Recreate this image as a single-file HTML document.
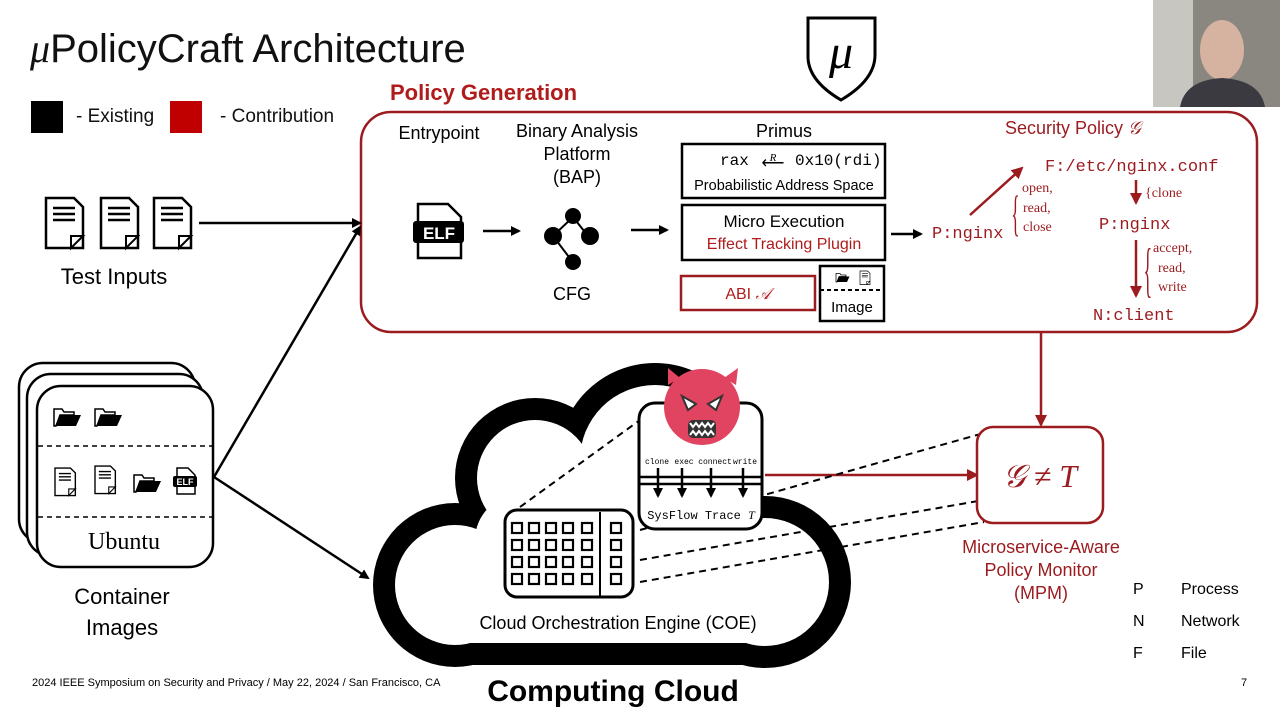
<!DOCTYPE html>
<html><head><meta charset="utf-8"><style>
body{margin:0;background:#fff}
svg{display:block;font-family:"Liberation Sans",sans-serif}
.m{font-family:"Liberation Mono",monospace}
</style></head><body>
<svg width="1280" height="720" viewBox="0 0 1280 720" xmlns="http://www.w3.org/2000/svg">
<defs>
<marker id="ab" markerWidth="10" markerHeight="10" refX="8" refY="5" orient="auto" markerUnits="userSpaceOnUse"><path d="M0,0 L10,5 L0,10 z" fill="#000"/></marker>
<marker id="ar" markerWidth="12" markerHeight="12" refX="10" refY="6" orient="auto" markerUnits="userSpaceOnUse"><path d="M0,0 L12,6 L0,12 z" fill="#9b1b1f"/></marker>
<g id="doc"><path d="M0,0 H28 L37,9 V50 H0 Z" fill="none" stroke="#000" stroke-width="2.5"/><path d="M37,38 L25,50 V38 Z" fill="none" stroke="#000" stroke-width="2"/><path d="M7,10H29M7,16H29M7,22H29" stroke="#000" stroke-width="2.5"/></g>
<g id="fold"><path d="M0,3 H8 L10,6 H20 V9 H6 L2,20 H0 Z" fill="none" stroke="#000" stroke-width="1.5"/><path d="M6,9 H27 L22,20 H1 Z" fill="#000"/></g>
</defs>

<!-- title -->
<text x="30" y="62" font-size="40" fill="#111"><tspan font-style="italic" font-family="Liberation Serif">μ</tspan>PolicyCraft Architecture</text>
<rect x="31" y="101" width="32" height="32" fill="#000"/>
<text x="76" y="122" font-size="19" fill="#111">- Existing</text>
<rect x="170" y="101" width="32" height="32" fill="#c00000"/>
<text x="220" y="122" font-size="19" fill="#111">- Contribution</text>

<!-- mu shield -->
<path d="M808,18 H875 V55 Q875,80 841,100 Q807,80 808,55 Z" fill="none" stroke="#000" stroke-width="3"/>
<text x="841" y="68" font-size="48" font-style="italic" font-family="Liberation Serif" text-anchor="middle">μ</text>

<!-- webcam -->
<rect x="1153" y="0" width="127" height="107" fill="#8a8680"/>
<rect x="1153" y="0" width="40" height="107" fill="#c8c6c0"/>
<ellipse cx="1222" cy="50" rx="22" ry="30" fill="#d6b3a0"/>
<path d="M1180,107 Q1185,80 1222,78 Q1260,80 1265,107 Z" fill="#3a3a40"/>

<text x="390" y="100" font-size="22" font-weight="bold" fill="#b01c1c">Policy Generation</text>
<rect x="361" y="112" width="896" height="220" rx="30" fill="none" stroke="#9b1b1f" stroke-width="2.5"/>

<text x="439" y="139" font-size="18" text-anchor="middle">Entrypoint</text>
<text x="577" y="137" font-size="18" text-anchor="middle">Binary Analysis</text>
<text x="577" y="160" font-size="18" text-anchor="middle">Platform</text>
<text x="577" y="183" font-size="18" text-anchor="middle">(BAP)</text>
<text x="784" y="137" font-size="18" text-anchor="middle">Primus</text>
<!-- ELF -->
<path d="M418,204 H448 L461,217 V258 H418 Z" fill="#fff" stroke="#000" stroke-width="2.5"/>
<rect x="413" y="221" width="51" height="22" rx="3" fill="#000"/>
<text x="439" y="239" font-size="17" font-weight="bold" fill="#fff" text-anchor="middle">ELF</text>
<line x1="483" y1="231" x2="519" y2="231" stroke="#000" stroke-width="2.5" marker-end="url(#ab)"/>
<!-- CFG -->
<g stroke="#000" stroke-width="2"><line x1="573" y1="217" x2="553" y2="236"/><line x1="573" y1="217" x2="588" y2="236"/><line x1="553" y1="236" x2="572" y2="261"/></g>
<circle cx="573" cy="216" r="8"/><circle cx="553" cy="236" r="9"/><circle cx="590" cy="236" r="9"/><circle cx="573" cy="262" r="8"/>
<text x="572" y="300" font-size="18" text-anchor="middle">CFG</text>
<line x1="631" y1="230" x2="667" y2="230" stroke="#000" stroke-width="2.5" marker-end="url(#ab)"/>
<!-- primus boxes -->
<rect x="682" y="144" width="203" height="54" fill="none" stroke="#000" stroke-width="2.5"/>
<text x="720" y="165" font-size="16" class="m">rax</text>
<text x="773" y="161" font-size="11" font-style="italic" font-family="Liberation Serif" text-anchor="middle">R</text>
<text x="773" y="168" font-size="16" text-anchor="middle">⟵</text>
<text x="795" y="165" font-size="16" class="m">0x10(rdi)</text>
<text x="784" y="190" font-size="14.5" text-anchor="middle">Probabilistic Address Space</text>
<rect x="682" y="205" width="203" height="55" fill="none" stroke="#000" stroke-width="2.5"/>
<text x="784" y="227" font-size="17" text-anchor="middle">Micro Execution</text>
<text x="784" y="249" font-size="16" text-anchor="middle" fill="#b01c1c">Effect Tracking Plugin</text>
<rect x="681" y="276" width="134" height="34" fill="none" stroke="#9b1b1f" stroke-width="2.5"/>
<text x="748" y="299" font-size="16" text-anchor="middle" fill="#b01c1c">ABI <tspan font-style="italic" font-family="Liberation Serif">𝒜</tspan></text>
<rect x="820" y="266" width="64" height="55" fill="none" stroke="#000" stroke-width="2.5"/>
<line x1="820" y1="290" x2="884" y2="290" stroke="#000" stroke-width="2" stroke-dasharray="4,3"/>
<g transform="translate(836,272) scale(0.5)"><use href="#fold"/></g>
<g transform="translate(860,271) scale(0.27)"><use href="#doc"/></g>
<text x="852" y="312" font-size="15" text-anchor="middle">Image</text>
<line x1="891" y1="234" x2="921" y2="234" stroke="#000" stroke-width="2.5" marker-end="url(#ab)"/>

<!-- security policy -->
<g fill="#9b1b1f">
<text x="1005" y="134" font-size="18">Security Policy <tspan font-style="italic" font-family="Liberation Serif">𝒢</tspan></text>
<text x="932" y="238" font-size="17" class="m">P:nginx</text>
<text x="1045" y="171" font-size="17" class="m">F:/etc/nginx.conf</text>
<text x="1099" y="229" font-size="17" class="m">P:nginx</text>
<text x="1093" y="320" font-size="17" class="m">N:client</text>
<g font-family="Liberation Serif" font-size="14">
<text x="1022" y="192">open,</text><text x="1023" y="212">read,</text><text x="1023" y="231">close</text>
<text x="1145" y="197">{clone</text>
<text x="1153" y="252">accept,</text><text x="1158" y="272">read,</text><text x="1158" y="291">write</text>
</g>
<text x="1008" y="230" font-size="50" font-family="Liberation Serif" transform="translate(1013,205) scale(0.35,1) translate(-1013,-205)">{</text>
<text x="1140" y="290" font-size="60" font-family="Liberation Serif" transform="translate(1145,265) scale(0.3,1) translate(-1145,-265)">{</text>
</g>
<g stroke="#9b1b1f" stroke-width="2.5">
<line x1="970" y1="215" x2="1022" y2="168" marker-end="url(#ar)"/>
<line x1="1136" y1="180" x2="1136" y2="203" marker-end="url(#ar)"/>
<line x1="1136" y1="240" x2="1136" y2="296" marker-end="url(#ar)"/>
<line x1="1041" y1="333" x2="1041" y2="425" marker-end="url(#ar)"/>
<line x1="765" y1="475" x2="977" y2="475" marker-end="url(#ar)"/>
</g>

<!-- test inputs -->
<use href="#doc" x="46" y="198"/><use href="#doc" x="101" y="198"/><use href="#doc" x="154" y="198"/>
<text x="114" y="284" font-size="22" text-anchor="middle">Test Inputs</text>
<line x1="199" y1="223" x2="360" y2="223" stroke="#000" stroke-width="2.5" marker-end="url(#ab)"/>

<!-- container -->
<rect x="19" y="363" width="176" height="180" rx="24" fill="#fff" stroke="#000" stroke-width="2.5"/>
<rect x="27" y="374" width="176" height="182" rx="24" fill="#fff" stroke="#000" stroke-width="2.5"/>
<rect x="37" y="386" width="176" height="181" rx="24" fill="#fff" stroke="#000" stroke-width="2.5"/>
<line x1="38" y1="446" x2="212" y2="446" stroke="#000" stroke-width="1.5" stroke-dasharray="5,4"/>
<line x1="38" y1="517" x2="212" y2="517" stroke="#000" stroke-width="1.5" stroke-dasharray="5,4"/>
<use href="#fold" x="54" y="406"/><use href="#fold" x="95" y="406"/>
<g transform="translate(55,468) scale(0.55)"><use href="#doc"/></g>
<g transform="translate(95,466) scale(0.55)"><use href="#doc"/></g>
<use href="#fold" x="134" y="472"/>
<path d="M177,468 H188 L195,475 V494 H177 Z" fill="#fff" stroke="#000" stroke-width="1.5"/>
<rect x="173" y="476" width="24" height="11" rx="2"/>
<text x="185" y="485" font-size="9" font-weight="bold" fill="#fff" text-anchor="middle">ELF</text>
<text x="124" y="549" font-size="24" text-anchor="middle" font-family="Liberation Serif">Ubuntu</text>
<text x="122" y="604" font-size="22" text-anchor="middle">Container</text>
<text x="122" y="635" font-size="22" text-anchor="middle">Images</text>
<line x1="214" y1="477" x2="360" y2="227" stroke="#000" stroke-width="2.5" marker-end="url(#ab)"/>
<line x1="214" y1="477" x2="368" y2="578" stroke="#000" stroke-width="2.5" marker-end="url(#ab)"/>

<!-- cloud -->
<g fill="#000">
<circle cx="455" cy="585" r="82"/><circle cx="535" cy="478" r="80"/><circle cx="655" cy="460" r="97"/><circle cx="765" cy="582" r="86"/>
<circle cx="610" cy="560" r="92"/><circle cx="520" cy="540" r="67"/><circle cx="700" cy="545" r="67"/>
<rect x="455" y="560" width="310" height="105"/>
</g>
<g fill="#fff">
<circle cx="455" cy="585" r="60"/><circle cx="535" cy="478" r="58"/><circle cx="655" cy="460" r="75"/><circle cx="765" cy="582" r="64"/>
<circle cx="610" cy="560" r="70"/><circle cx="520" cy="540" r="45"/><circle cx="700" cy="545" r="45"/>
<rect x="455" y="560" width="310" height="83"/>
</g>
<text x="618" y="629" font-size="18" text-anchor="middle">Cloud Orchestration Engine (COE)</text>

<!-- dashed lines -->
<g stroke="#000" stroke-width="2" stroke-dasharray="7,5" fill="none">
<line x1="520" y1="507" x2="640" y2="420"/>
<line x1="640" y1="530" x2="984" y2="433"/>
<line x1="640" y1="560" x2="984" y2="500"/>
<line x1="640" y1="582" x2="984" y2="522"/>
</g>

<!-- building -->
<rect x="505" y="510" width="128" height="87" rx="12" fill="#fff" stroke="#000" stroke-width="3"/>
<line x1="600" y1="512" x2="600" y2="596" stroke="#000" stroke-width="2"/>
<g fill="none" stroke="#000" stroke-width="2.2">
<rect x="512" y="523" width="10" height="10"/><rect x="529" y="523" width="10" height="10"/><rect x="546" y="523" width="10" height="10"/><rect x="563" y="523" width="10" height="10"/><rect x="582" y="523" width="10" height="10"/><rect x="611" y="523" width="10" height="10"/>
<rect x="512" y="540" width="10" height="10"/><rect x="529" y="540" width="10" height="10"/><rect x="546" y="540" width="10" height="10"/><rect x="563" y="540" width="10" height="10"/><rect x="582" y="540" width="10" height="10"/><rect x="611" y="540" width="10" height="10"/>
<rect x="512" y="557" width="10" height="10"/><rect x="529" y="557" width="10" height="10"/><rect x="546" y="557" width="10" height="10"/><rect x="563" y="557" width="10" height="10"/><rect x="582" y="557" width="10" height="10"/><rect x="611" y="557" width="10" height="10"/>
<rect x="512" y="574" width="10" height="10"/><rect x="529" y="574" width="10" height="10"/><rect x="546" y="574" width="10" height="10"/><rect x="563" y="574" width="10" height="10"/><rect x="582" y="574" width="10" height="10"/><rect x="611" y="574" width="10" height="10"/>
</g>

<!-- sysflow box -->
<rect x="639" y="403" width="123" height="126" rx="16" fill="#fff" stroke="#000" stroke-width="3"/>
<g font-size="8" class="m" text-anchor="middle"><text x="657" y="464">clone</text><text x="684" y="464">exec</text><text x="715" y="464">connect</text><text x="745" y="464">write</text></g>
<line x1="640" y1="477" x2="762" y2="477" stroke="#000" stroke-width="2.5"/>
<line x1="640" y1="484" x2="762" y2="484" stroke="#000" stroke-width="2.5"/>
<g stroke="#000" stroke-width="2.5"><line x1="658" y1="468" x2="658" y2="496" marker-end="url(#ab)"/><line x1="682" y1="468" x2="682" y2="496" marker-end="url(#ab)"/><line x1="711" y1="468" x2="711" y2="496" marker-end="url(#ab)"/><line x1="743" y1="468" x2="743" y2="496" marker-end="url(#ab)"/></g>
<text x="701" y="519" font-size="12" class="m" text-anchor="middle">SysFlow Trace <tspan font-style="italic" font-family="Liberation Serif">T</tspan></text>
<!-- devil -->
<path d="M668,385 L668,368 L680,378 Z M736,385 L738,368 L724,378 Z" fill="#e04460"/>
<circle cx="702" cy="407" r="38" fill="#e04460"/>
<path d="M682,396 L696,404 L688,410 Z M722,396 L708,404 L716,410 Z" fill="#fff" stroke="#333" stroke-width="2"/>
<rect x="688" y="420" width="28" height="18" rx="5" fill="#333"/>
<path d="M690,423 l3,4 l3,-4 l3,4 l3,-4 l3,4 l3,-4 l3,4 l3,-4 M690,435 l3,-4 l3,4 l3,-4 l3,4 l3,-4 l3,4 l3,-4 l3,4" stroke="#fff" stroke-width="2" fill="none"/>

<!-- MPM -->
<rect x="977" y="427" width="126" height="96" rx="16" fill="#fff" stroke="#9b1b1f" stroke-width="2.5"/>
<text x="1040" y="487" font-size="32" text-anchor="middle" fill="#9b1b1f" font-family="Liberation Serif" font-style="italic">𝒢 ≠ T</text>
<g fill="#9b1b1f" font-size="18" text-anchor="middle"><text x="1041" y="553">Microservice-Aware</text><text x="1041" y="576">Policy Monitor</text><text x="1041" y="599">(MPM)</text></g>

<!-- legend -->
<g font-size="16"><text x="1133" y="594">P</text><text x="1181" y="594">Process</text><text x="1133" y="626">N</text><text x="1181" y="626">Network</text><text x="1133" y="658">F</text><text x="1181" y="658">File</text></g>

<text x="32" y="686" font-size="11">2024 IEEE Symposium on Security and Privacy / May 22, 2024 / San Francisco, CA</text>
<text x="613" y="701" font-size="30" font-weight="bold" text-anchor="middle">Computing Cloud</text>
<text x="1244" y="686" font-size="11" text-anchor="middle">7</text>
</svg>
</body></html>
